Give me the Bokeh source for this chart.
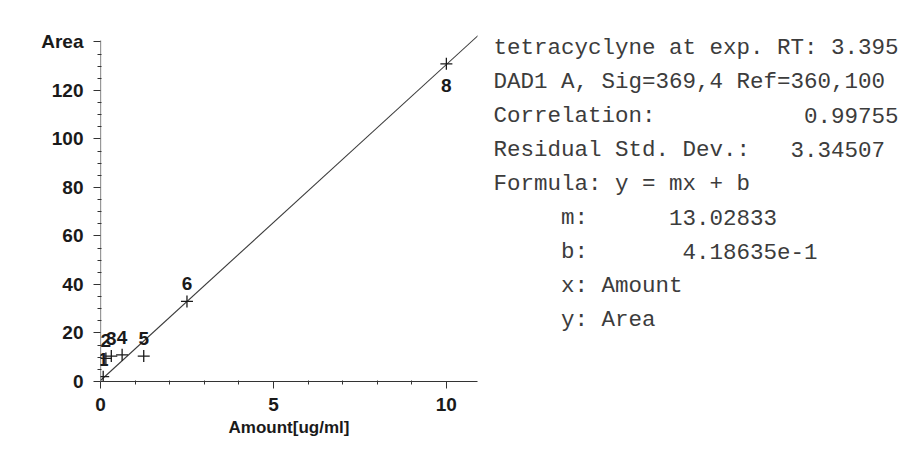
from bokeh.plotting import figure
from bokeh.models import Range1d, FixedTicker, ColumnDataSource
from bokeh.layouts import row
from bokeh.core.properties import value
from bokeh.embed import file_html
from bokeh.resources import INLINE

# ---------------- data ----------------
point_labels = ["1", "2", "3", "4", "5", "6", "8"]
amount = [0.078, 0.156, 0.3125, 0.625, 1.25, 2.5, 10.0]
area = [2.0, 9.5, 10.5, 11.0, 10.5, 33.0, 131.0]
slope_m = 13.02833
intercept_b = 0.418635
x_ticks = [0, 5, 10]
x_minor_ticks = [1, 2, 3, 4, 6, 7, 8, 9]
y_ticks = [0, 20, 40, 60, 80, 100, 120, 140]
y_minor_ticks = [5, 10, 15, 25, 30, 35, 45, 50, 55, 65, 70, 75, 85, 90, 95,
                 105, 110, 115, 125, 130, 135]
y_top_label = "Area"
x_title = "Amount[ug/ml]"
info_keys = [
    "tetracyclyne at exp. RT: 3.395",
    "DAD1 A, Sig=369,4 Ref=360,100",
    "Correlation:",
    "Residual Std. Dev.:",
    "Formula: y = mx + b",
    "m:",
    "b:",
    "x: Amount",
    "y: Area",
]
info_values = ["", "", "0.99755", "3.34507", "", "13.02833", "4.18635e-1", "", ""]
labels_below = ["8"]

# ---------------- styles ----------------
SANS = "Liberation Sans"
MONO = "Liberation Mono"
INK = "#1a1a1a"
AXIS_TOP = 140.6          # where the drawn y-axis line stops
key_cols = [0, 0, 0, 0, 0, 5, 5, 5, 5]
value_cols = [0, 0, 23, 22, 0, 13, 14, 0, 0]
CHAR_W = 13.5
TEXT_X0 = 493
LINE_Y0 = 47
LINE_STEP = 34

p = figure(width=478, height=457,
           x_range=Range1d(0, 10.9), y_range=Range1d(0, 153.8),
           output_backend="svg", toolbar_location=None,
           min_border_left=100, min_border_right=1,
           min_border_top=8, min_border_bottom=76)
p.outline_line_color = None
p.xgrid.visible = False
p.ygrid.visible = False
p.background_fill_color = "white"
p.border_fill_color = "white"

p.xaxis.ticker = FixedTicker(ticks=x_ticks, minor_ticks=x_minor_ticks)
p.yaxis.ticker = FixedTicker(ticks=y_ticks, minor_ticks=y_minor_ticks)
p.yaxis.major_label_overrides = {y_ticks[-1]: y_top_label}
p.xaxis.axis_label = x_title
p.xaxis.axis_label_standoff = 4
p.xaxis.axis_label_text_font = SANS
p.xaxis.axis_label_text_font_size = "17px"
p.xaxis.axis_label_text_font_style = "bold"
p.xaxis.axis_label_text_color = INK
for ax in (p.xaxis[0], p.yaxis[0]):
    ax.axis_line_color = "#333333"
    ax.axis_line_width = 1.2
    ax.major_tick_line_color = "#333333"
    ax.minor_tick_line_color = "#333333"
    ax.major_tick_out = 7
    ax.major_tick_in = 0
    ax.minor_tick_out = 3
    ax.minor_tick_in = 1
    ax.major_label_text_font = SANS
    ax.major_label_text_font_size = "19px"
    ax.major_label_text_font_style = "bold"
    ax.major_label_text_color = INK
p.xaxis[0].major_label_standoff = 9
p.yaxis[0].major_label_standoff = 10
p.yaxis[0].axis_line_color = None
# y-axis line stopping at the top of the scale
p.segment(x0=[0], y0=[0], x1=[0], y1=[AXIS_TOP], line_color="#333333", line_width=1.2)

# fitted line
fit_x = [0, max(amount) * 1.15]
fit_y = [slope_m * x + intercept_b for x in fit_x]
p.line(fit_x, fit_y, line_color="#3a3a3a", line_width=1.1)

# points
p.scatter(amount, area, marker="cross", size=12, line_color=INK, line_width=1.3)

def subset(keep):
    idx = [i for i, l in enumerate(point_labels) if keep(l)]
    return ColumnDataSource(dict(x=[amount[i] for i in idx],
                                 y=[area[i] for i in idx],
                                 t=[point_labels[i] for i in idx]))

above = subset(lambda l: l not in labels_below)
below = subset(lambda l: l in labels_below)
p.text(x="x", y="y", text="t", source=above, text_align="center",
       text_baseline="bottom", y_offset=-11, text_font=value(SANS),
       text_font_size="19px", text_font_style="bold", text_color=INK)
p.text(x="x", y="y", text="t", source=below, text_align="center",
       text_baseline="top", y_offset=15, text_font=value(SANS),
       text_font_size="19px", text_font_style="bold", text_color=INK)

# ---------------- text panel ----------------
q = figure(width=424, height=457, x_range=Range1d(478, 902), y_range=Range1d(381, 8),
           x_axis_type=None, y_axis_type=None,
           output_backend="svg", toolbar_location=None,
           min_border_left=0, min_border_right=0,
           min_border_top=8, min_border_bottom=76)
q.outline_line_color = None
q.xgrid.visible = False
q.ygrid.visible = False
q.background_fill_color = "white"
q.border_fill_color = "white"

line_y = [LINE_Y0 + LINE_STEP * i for i in range(len(info_keys))]
q.text(x=[TEXT_X0 + c * CHAR_W for c in key_cols], y=line_y, text=info_keys,
       text_font=value(MONO), text_font_size="22.5px", text_color="#3c3c3c",
       text_baseline="middle", text_align="left")
vi = [i for i, v in enumerate(info_values) if v]
q.text(x=[TEXT_X0 + value_cols[i] * CHAR_W for i in vi], y=[line_y[i] for i in vi],
       text=[info_values[i] for i in vi],
       text_font=value(MONO), text_font_size="22.5px", text_color="#3c3c3c",
       text_baseline="middle", text_align="left")

layout = row(p, q)
open("out.html", "w").write(file_html(layout, INLINE))
